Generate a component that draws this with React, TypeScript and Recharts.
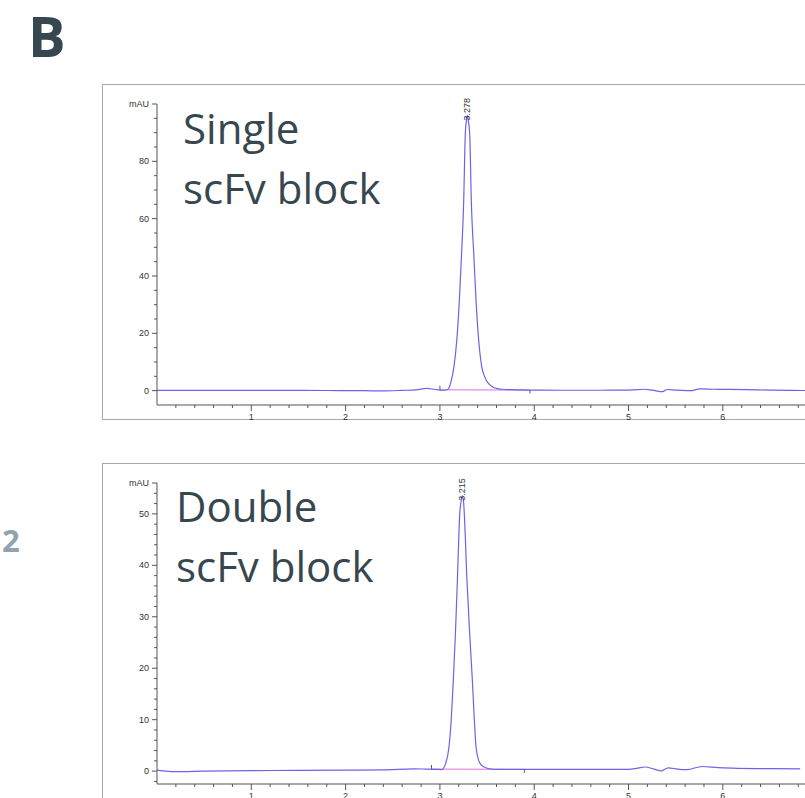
import React from 'react';
import { LineChart, Line, XAxis, YAxis, ReferenceLine, ReferenceDot } from 'recharts';

// retention time (min) / absorbance (mAU)
const singleTime = [0, 0.3, 0.8, 1.3, 1.8, 2.2, 2.37, 2.6, 2.75, 2.86, 2.95, 3.0, 3.05, 3.086, 3.114, 3.149, 3.18, 3.206, 3.23, 3.252, 3.269, 3.28, 3.291, 3.302, 3.316, 3.333, 3.36, 3.383, 3.41, 3.443, 3.475, 3.51, 3.56, 3.6, 3.655, 3.75, 3.95, 4.3, 4.7, 5.0, 5.1, 5.16, 5.25, 5.36, 5.41, 5.5, 5.65, 5.76, 5.9, 6.05, 6.25, 6.5, 6.7, 6.9];
const singleMau = [0.1, 0.1, 0.1, 0.1, 0.05, 0.0, -0.1, 0.1, 0.3, 0.8, 0.4, 0.2, 0.15, 0.5, 2.7, 8.4, 18, 31.5, 48, 66, 89.5, 94, 96, 94, 89.5, 66, 47, 31.5, 18, 8.4, 4.8, 2.7, 1.3, 0.8, 0.5, 0.35, 0.2, 0.15, 0.15, 0.2, 0.35, 0.5, 0.2, -0.35, 0.4, 0.2, 0.0, 0.6, 0.5, 0.45, 0.35, 0.2, 0.1, 0.05];

const doubleTime = [0, 0.2, 0.5, 1.0, 1.5, 2.0, 2.4, 2.72, 2.85, 2.95, 3.019, 3.061, 3.096, 3.12, 3.142, 3.165, 3.185, 3.21, 3.225, 3.238, 3.25, 3.259, 3.287, 3.315, 3.344, 3.365, 3.383, 3.425, 3.47, 3.549, 3.65, 3.8, 4.2, 4.6, 5.0, 5.1, 5.175, 5.27, 5.35, 5.42, 5.52, 5.62, 5.78, 5.95, 6.1, 6.4, 6.82];
const doubleMau = [0.2, -0.1, 0.0, 0.1, 0.15, 0.2, 0.25, 0.45, 0.4, 0.35, 0.3, 1.5, 4.7, 10, 17.6, 27, 37, 49.9, 52.5, 53.5, 52.5, 49.9, 37, 27, 17.6, 10, 4.7, 1.5, 0.8, 0.4, 0.35, 0.33, 0.33, 0.33, 0.35, 0.6, 0.8, 0.4, 0.05, 0.64, 0.4, 0.3, 0.9, 0.7, 0.6, 0.5, 0.45];

// peak apex + integration baseline + event marks
const singlePeak = { t: 3.291, v: 96, label: '3.278' };
const doublePeak = { t: 3.238, v: 53.5, label: '3.215' };
const singleBaseT = [3.0, 3.955];
const singleBaseV = [0.3, 0.2];
const doubleBaseT = [2.91, 3.895];
const doubleBaseV = [0.4, 0.35];

const timeTicks = [0.2, 0.4, 0.6, 0.8, 1, 1.2, 1.4, 1.6, 1.8, 2, 2.2, 2.4, 2.6, 2.8, 3, 3.2, 3.4, 3.6, 3.8, 4, 4.2, 4.4, 4.6, 4.8, 5, 5.2, 5.4, 5.6, 5.8, 6, 6.2, 6.4, 6.6, 6.8, 7];
const singleMauTicks = [0, 5, 10, 15, 20, 25, 30, 35, 40, 45, 50, 55, 60, 65, 70, 75, 80, 85, 90, 95, 100];
const doubleMauTicks = [-2, 0, 2, 4, 6, 8, 10, 12, 14, 16, 18, 20, 22, 24, 26, 28, 30, 32, 34, 36, 38, 40, 42, 44, 46, 48, 50, 52, 54, 56];

const LINE = '#6c63e8';
const PINK = '#e070dc';
const AXIS = '#555';
const INK = '#37474f';
const AXIS_FONT = '"Liberation Sans", Arial, sans-serif';

const singleData = singleTime.map((t, i) => ({ t, v: singleMau[i] }));
const doubleData = doubleTime.map((t, i) => ({ t, v: doubleMau[i] }));

function TimeTick(props: any) {
  const { x, y, payload } = props;
  const major = Number.isInteger(payload.value);
  return (
    <g>
      <line x1={x} x2={x} y1={y} y2={y + (major ? 6 : 3)} stroke={AXIS} strokeWidth={1} />
      {major && (
        <text x={x} y={y + 14.5} textAnchor="middle" fontSize={9} fill="#333" fontFamily={AXIS_FONT}>
          {payload.value}
        </text>
      )}
    </g>
  );
}

const mauTick = (top: number, step: number) => (props: any) => {
  const { x, y, payload } = props;
  const v = payload.value;
  const major = v === top || v % step === 0;
  return (
    <g>
      <line x1={x - (major ? 5 : 3)} x2={x} y1={y} y2={y} stroke={AXIS} strokeWidth={1} />
      {major && (
        <text x={x - 8} y={y + 3} textAnchor="end" fontSize={9} fill="#333" fontFamily={AXIS_FONT}>
          {v === top ? 'mAU' : v}
        </text>
      )}
    </g>
  );
};

const peakShape = (label: string) => (p: any) => (
  <text
    x={p.cx}
    y={p.cy + 5}
    transform={`rotate(-90 ${p.cx} ${p.cy + 5})`}
    dy={3}
    fontSize={9}
    fill="#333"
    fontFamily={AXIS_FONT}
  >
    {label}
  </text>
);

function Trace({ data, domain, ticks, top, step, peak, baseT, baseV, markUp, markDown, style }: any) {
  return (
    <LineChart
      width={860}
      height={430}
      data={data}
      margin={{ top: 104, right: 24, left: 156, bottom: 0 }}
      style={style}
    >
      <XAxis
        dataKey="t"
        type="number"
        domain={[0, 7.2]}
        ticks={timeTicks}
        interval={0}
        height={25}
        tickSize={0}
        tickMargin={0}
        tickLine={false}
        axisLine={{ stroke: AXIS }}
        tick={<TimeTick />}
      />
      <YAxis
        type="number"
        domain={domain}
        ticks={ticks}
        interval={0}
        width={1}
        tickSize={0}
        tickMargin={0}
        tickLine={false}
        axisLine={{ stroke: AXIS }}
        tick={mauTick(top, step)}
      />
      <ReferenceLine
        segment={[{ x: baseT[0], y: baseV[0] }, { x: baseT[1], y: baseV[1] }]}
        stroke={PINK}
        strokeWidth={1}
        ifOverflow="visible"
      />
      <ReferenceLine
        segment={[{ x: baseT[0], y: baseV[0] }, { x: baseT[0], y: baseV[0] + markUp }]}
        stroke={AXIS}
        ifOverflow="visible"
      />
      <ReferenceLine
        segment={[{ x: baseT[1], y: baseV[1] }, { x: baseT[1], y: baseV[1] - markDown }]}
        stroke={AXIS}
        ifOverflow="visible"
      />
      <Line
        type="monotone"
        dataKey="v"
        stroke={LINE}
        strokeWidth={1.2}
        dot={false}
        isAnimationActive={false}
      />
      <ReferenceDot x={peak.t} y={peak.v} r={0} ifOverflow="visible" shape={peakShape(peak.label)} />
    </LineChart>
  );
}

export default function App() {
  return (
    <div
      style={{
        position: 'absolute',
        left: 0,
        top: 0,
        width: 805,
        height: 798,
        overflow: 'hidden',
        background: '#fff',
      }}
    >
      <div style={{ position: 'absolute', left: 102, top: 84, width: 760, height: 334, border: '1.5px solid #a8a8a8' }} />
      <div style={{ position: 'absolute', left: 102, top: 463, width: 760, height: 400, border: '1.5px solid #a8a8a8' }} />
      <Trace
        data={singleData}
        domain={[-5, 100]}
        ticks={singleMauTicks}
        top={100}
        step={20}
        peak={singlePeak}
        baseT={singleBaseT}
        baseV={singleBaseV}
        markUp={1.4}
        markDown={1.2}
        style={{ position: 'absolute', left: 0, top: 0 }}
      />
      <Trace
        data={doubleData}
        domain={[-2.5, 56]}
        ticks={doubleMauTicks}
        top={56}
        step={10}
        peak={doublePeak}
        baseT={doubleBaseT}
        baseV={doubleBaseV}
        markUp={0.8}
        markDown={0.7}
        style={{ position: 'absolute', left: 0, top: 379 }}
      />
      <svg width={805} height={798} style={{ position: 'absolute', left: 0, top: 0, pointerEvents: 'none' }}>
        <text x={28} y={57} fontSize={56} fontWeight={700} fill={INK} fontFamily='"Open Sans", sans-serif'>B</text>
        <text x={2} y={552} fontSize={31} fontWeight={700} fill="#90a4ae" fontFamily='"Open Sans", sans-serif'>2</text>
        <g fontSize={42} fill={INK} fontFamily='"Open Sans", sans-serif'>
          <text x={183} y={143.5}>Single</text>
          <text x={183} y={203.5}>scFv block</text>
          <text x={176} y={521.7}>Double</text>
          <text x={176} y={581.7}>scFv block</text>
        </g>
      </svg>
    </div>
  );
}
